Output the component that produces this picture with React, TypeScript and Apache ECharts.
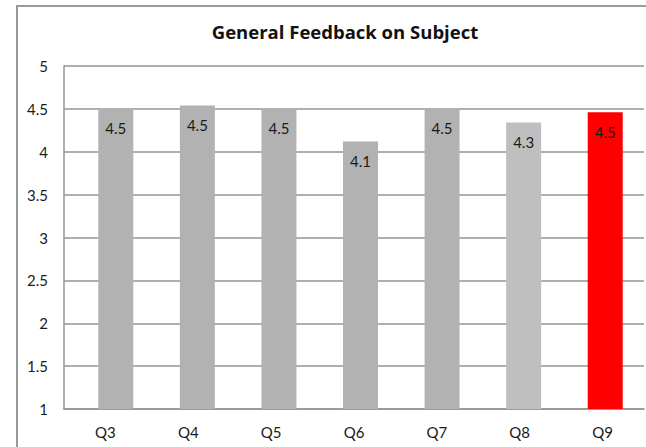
import React, { useEffect, useRef } from "react";
import * as echarts from "echarts";

const categories = ["Q3", "Q4", "Q5", "Q6", "Q7", "Q8", "Q9"];
const values = [4.5, 4.54, 4.5, 4.12, 4.51, 4.34, 4.46];
const barColors = ["#b2b2b2", "#b2b2b2", "#b2b2b2", "#b2b2b2", "#b2b2b2", "#bfbfbf", "#ff0000"];
const yTicks = { min: 1, max: 5, interval: 0.5 };
const title = "General Feedback on Subject";

const FONT = "Lato, 'Open Sans', sans-serif";

export default function App() {
  const ref = useRef<HTMLDivElement>(null);
  useEffect(() => {
    if (!ref.current) return;
    const chart = echarts.init(ref.current, null, { renderer: "svg" });
    chart.setOption({
      animation: false,
      backgroundColor: "#ffffff",
      textStyle: { fontFamily: FONT },
      title: {
        text: title,
        left: 340,
        textAlign: "center",
        top: 17,
        textStyle: { fontFamily: "'Open Sans', sans-serif", fontWeight: "bold", fontSize: 18.5, color: "#111" },
      },
      graphic: [
        {
          type: "polyline",
          shape: { points: [[17, 460], [17, 6], [660, 6]] },
          style: { fill: "none", stroke: "#9a9a9a", lineWidth: 2 },
          silent: true,
          z: 0,
        },
      ],
      grid: [
        { left: 64, right: 2, top: 66, bottom: 38, containLabel: false },
        { left: 75, right: -9, top: 66, bottom: 38, containLabel: false },
      ],
      xAxis: [
        {
          gridIndex: 0,
          type: "category",
          data: categories,
          axisLine: { show: true, lineStyle: { color: "#959595", width: 1.5 } },
          axisTick: { show: false },
          splitLine: { show: false },
          axisLabel: { margin: 15, fontSize: 15, color: "#1a1a1a", fontFamily: FONT },
        },
        {
          gridIndex: 1,
          type: "category",
          data: categories,
          show: false,
          axisLine: { show: false },
          splitLine: { show: false },
        },
      ],
      yAxis: [
        {
          gridIndex: 0,
          type: "value",
          min: yTicks.min,
          max: yTicks.max,
          interval: yTicks.interval,
          axisLine: { show: true, lineStyle: { color: "#959595", width: 1.5 } },
          axisTick: { show: false },
          splitLine: { show: true, lineStyle: { color: "#959595", width: 1.5 } },
          axisLabel: { margin: 16, fontSize: 15, color: "#1a1a1a", fontFamily: FONT },
        },
        {
          gridIndex: 1,
          type: "value",
          min: yTicks.min,
          max: yTicks.max,
          interval: yTicks.interval,
          show: false,
          axisLine: { show: false },
          splitLine: { show: false },
        },
      ],
      series: [
        {
          type: "bar",
          xAxisIndex: 1,
          yAxisIndex: 1,
          barWidth: 35,
          data: values.map((v, i) => ({ value: v, itemStyle: { color: barColors[i] } })),
          label: {
            show: true,
            position: "insideTop",
            distance: 12,
            fontSize: 15,
            color: "#1a1a1a",
            fontFamily: FONT,
            formatter: (p: any) => Number(p.value).toFixed(1),
          },
          z: 3,
        },
      ],
    });
    return () => chart.dispose();
  }, []);
  return (
    <div
      ref={ref}
      style={{ position: "absolute", left: 0, top: 0, width: 646, height: 447 }}
    />
  );
}
